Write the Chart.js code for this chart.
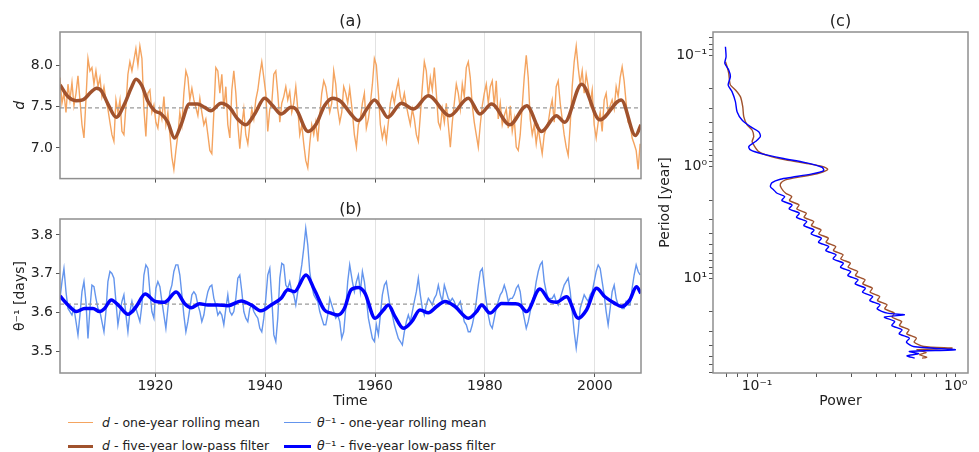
<!DOCTYPE html>
<html><head><meta charset="utf-8">
<script src="https://cdn.jsdelivr.net/npm/chart.js@4.4.1/dist/chart.umd.min.js"></script>
<style>
html,body{margin:0;padding:0;background:#fff;}
body{width:979px;height:452px;position:relative;overflow:hidden;font-family:"DejaVu Sans",sans-serif;}
canvas{position:absolute;}
#cA{left:0;top:0;}
#cB{left:0;top:190px;}
#cC{left:650px;top:0;}
.leg{position:absolute;font-size:12.5px;color:#222;line-height:14px;white-space:nowrap;}
.sw{position:absolute;height:0;}
</style></head><body>
<canvas id="cA" width="650" height="190"></canvas>
<canvas id="cB" width="650" height="220"></canvas>
<canvas id="cC" width="329" height="410"></canvas>

<div class="sw" style="left:68px;top:422px;width:25px;border-top:1.5px solid #F4A460"></div>
<div class="leg" style="left:102px;top:416px"><i>d</i> - one-year rolling mean</div>
<div class="sw" style="left:68px;top:444.5px;width:25px;border-top:3px solid #A0522D"></div>
<div class="leg" style="left:102px;top:439px"><i>d</i> - five-year low-pass filter</div>
<div class="sw" style="left:284px;top:422px;width:27px;border-top:1.5px solid #6495ED"></div>
<div class="leg" style="left:317px;top:416px"><i>θ</i>⁻¹ - one-year rolling mean</div>
<div class="sw" style="left:284px;top:444.5px;width:27px;border-top:3px solid #0000FF"></div>
<div class="leg" style="left:317px;top:439px"><i>θ</i>⁻¹ - five-year low-pass filter</div>

<script>
// ---------------- data ----------------
const rollYears = [
1902.67,1903.03,1903.39,1903.76,1904.12,1904.48,1904.85,1905.21,1905.58,1905.94,
1906.30,1906.67,1907.03,1907.39,1907.76,1908.12,1908.48,1908.85,1909.21,1909.58,
1909.94,1910.30,1910.67,1911.03,1911.39,1911.76,1912.12,1912.48,1912.85,1913.21,
1913.58,1913.94,1914.30,1914.67,1915.03,1915.39,1915.76,1916.12,1916.48,1916.85,
1917.21,1917.58,1917.94,1918.30,1918.67,1919.03,1919.39,1919.76,1920.12,1920.48,
1920.85,1921.21,1921.58,1921.94,1922.30,1922.67,1923.03,1923.39,1923.76,1924.12,
1924.48,1924.85,1925.21,1925.58,1925.94,1926.30,1926.67,1927.03,1927.39,1927.76,
1928.12,1928.48,1928.85,1929.21,1929.58,1929.94,1930.30,1930.67,1931.03,1931.39,
1931.76,1932.12,1932.48,1932.85,1933.21,1933.58,1933.94,1934.30,1934.67,1935.03,
1935.39,1935.76,1936.12,1936.48,1936.85,1937.21,1937.58,1937.94,1938.30,1938.67,
1939.03,1939.39,1939.76,1940.12,1940.48,1940.85,1941.21,1941.58,1941.94,1942.30,
1942.67,1943.03,1943.39,1943.76,1944.12,1944.48,1944.85,1945.21,1945.58,1945.94,
1946.30,1946.67,1947.03,1947.39,1947.76,1948.12,1948.48,1948.85,1949.21,1949.58,
1949.94,1950.30,1950.67,1951.03,1951.39,1951.76,1952.12,1952.48,1952.85,1953.21,
1953.58,1953.94,1954.30,1954.67,1955.03,1955.39,
1955.88,1956.24,1956.61,1956.97,1957.33,1957.70,1958.06,1958.42,1958.79,1959.15,
1959.52,1959.88,1960.24,1960.61,1960.97,1961.33,1961.70,1962.06,1962.42,1962.79,
1963.15,1963.52,1963.88,1964.24,1964.61,1964.97,1965.33,1965.70,1966.06,1966.42,
1966.79,1967.15,1967.52,1967.88,1968.24,1968.61,1968.97,1969.33,1969.70,1970.06,
1970.42,1970.79,1971.15,1971.52,1971.88,1972.24,1972.61,1972.97,1973.33,1973.70,
1974.06,1974.42,1974.79,1975.15,1975.52,1975.88,1976.24,1976.61,1976.97,1977.33,
1977.70,1978.06,1978.42,1978.79,1979.15,1979.52,1979.88,1980.24,1980.61,1980.97,
1981.33,1981.70,1982.06,1982.42,1982.79,1983.15,1983.52,1983.88,1984.24,1984.61,
1984.97,1985.33,1985.70,1986.06,1986.42,1986.79,1987.15,1987.52,1987.88,1988.24,
1988.61,1988.97,1989.33,1989.70,1990.06,1990.42,1990.79,1991.15,1991.52,1991.88,
1992.24,1992.61,1992.97,1993.33,1993.70,1994.06,1994.42,1994.79,1995.15,1995.52,
1995.88,1996.24,1996.61,1996.97,1997.33,1997.70,1998.06,1998.42,1998.79,1999.15,
1999.52,1999.88,2000.24,2000.61,2000.97,2001.33,2001.70,2002.06,2002.42,2002.79,
2003.15,2003.52,2003.88,2004.24,2004.61,2004.97,2005.33,2005.70,2006.06,2006.42,
2006.79,2007.15,2007.52,2007.88,2008.24
];

const dRolling = [
7.85,7.54,7.66,7.43,7.77,7.58,7.79,7.51,7.66,7.87,
7.58,7.28,7.12,7.58,8.08,7.93,7.97,7.77,7.93,7.74,
7.85,7.62,7.74,7.58,7.47,7.31,7.16,7.08,7.58,7.43,
7.58,7.20,7.16,7.51,7.89,8.04,7.93,8.06,8.20,8.00,
8.23,8.08,7.47,7.14,7.66,7.70,7.43,7.52,7.31,7.24,
7.47,7.35,7.62,7.28,7.43,7.16,6.89,6.74,6.97,7.16,
7.43,7.28,7.66,7.93,7.85,7.58,7.72,7.58,7.49,7.39,
7.60,7.43,7.28,7.35,7.16,6.97,6.93,7.43,7.97,7.93,
7.66,7.89,7.47,7.74,7.28,7.12,7.70,7.93,7.66,7.28,
6.99,7.28,7.47,7.16,7.05,7.28,7.47,7.35,7.58,7.70,
7.89,8.04,7.85,7.66,7.20,7.47,7.54,7.89,7.93,7.66,
7.31,7.54,7.62,7.74,7.58,7.68,7.43,7.54,7.74,7.47,
7.16,7.28,7.05,6.85,6.76,7.05,7.28,7.16,7.31,7.08,
7.39,7.66,7.81,7.74,7.58,7.43,7.54,7.93,7.77,7.47,
7.31,7.43,7.74,7.66,7.54,7.72,
7.43,7.16,7.01,7.28,7.35,7.54,7.66,7.24,7.35,7.54,
7.77,8.08,8.00,7.66,7.28,7.12,7.24,7.08,7.31,7.54,
7.66,7.54,7.70,7.81,7.62,7.54,7.66,7.51,7.39,7.28,
7.47,7.35,7.16,7.08,7.39,7.74,8.04,7.93,7.62,7.85,
7.70,7.97,7.66,7.31,7.24,7.47,7.31,7.54,7.28,7.01,
7.31,7.54,7.77,7.66,7.47,7.77,7.62,7.97,8.04,7.85,
7.51,7.31,7.16,7.01,7.28,7.51,7.66,7.77,7.54,7.74,
7.81,7.51,7.81,7.35,7.54,7.28,7.39,7.47,7.24,7.51,
7.20,7.35,7.01,6.97,7.16,7.51,7.85,8.12,7.85,7.35,
7.16,7.28,7.05,7.24,7.08,6.93,7.16,7.24,7.31,7.47,
7.58,7.31,7.74,7.81,7.54,7.35,7.16,7.01,6.91,7.28,
7.74,8.04,8.23,7.97,7.77,7.93,7.66,7.89,7.74,7.54,
7.70,7.28,7.12,7.31,7.43,7.20,7.58,7.66,7.43,7.51,
7.58,7.47,7.74,7.62,7.85,7.98,7.81,7.54,7.31,7.28,
7.12,7.05,6.97,6.74,7.05
];

const thetaRolling = [
3.637,3.680,3.714,3.654,3.611,3.603,3.594,3.611,3.577,3.543,
3.594,3.654,3.680,3.629,3.534,3.611,3.671,3.667,3.637,3.611,
3.603,3.577,3.551,3.603,3.680,3.706,3.701,3.689,3.629,3.569,
3.603,3.629,3.646,3.594,3.551,3.603,3.629,3.603,3.611,3.594,
3.577,3.620,3.697,3.723,3.714,3.654,3.603,3.586,3.663,3.680,
3.667,3.629,3.594,3.560,3.611,3.654,3.671,3.706,3.723,3.723,
3.697,3.646,3.594,3.551,3.577,3.611,3.646,3.654,3.646,3.620,
3.603,3.577,3.594,3.629,3.654,3.667,3.671,3.637,3.620,3.594,
3.603,3.594,3.569,3.611,3.646,3.603,3.594,3.603,3.637,3.689,
3.697,3.654,3.603,3.586,3.577,3.611,3.620,3.603,3.594,3.586,
3.560,3.551,3.586,3.637,3.697,3.714,3.637,3.543,3.526,3.586,
3.689,3.727,3.723,3.671,3.663,3.680,3.654,3.646,3.620,3.654,
3.689,3.723,3.766,3.817,3.774,3.706,3.671,3.646,3.637,3.629,
3.603,3.586,3.569,3.569,3.594,3.637,3.620,3.603,3.586,3.594,
3.577,3.534,3.551,3.611,3.680,3.723,
3.680,3.654,3.680,3.697,3.654,3.706,3.680,3.637,3.586,3.560,
3.534,3.526,3.569,3.543,3.594,3.646,3.671,3.680,3.646,3.611,
3.594,3.569,3.551,3.534,3.526,3.517,3.551,3.577,3.594,3.577,
3.603,3.629,3.654,3.689,3.646,3.611,3.594,3.620,3.637,3.629,
3.620,3.637,3.646,3.671,3.646,3.629,3.671,3.654,3.637,3.629,
3.637,3.629,3.611,3.620,3.629,3.603,3.577,3.569,3.551,3.551,
3.569,3.594,3.629,3.671,3.706,3.714,3.671,3.629,3.594,3.569,
3.560,3.586,3.611,3.629,3.646,3.654,3.671,3.654,3.629,3.637,
3.637,3.646,3.663,3.671,3.654,3.611,3.586,3.560,3.577,3.603,
3.629,3.646,3.680,3.706,3.723,3.731,3.680,3.654,3.637,3.637,
3.637,3.646,3.629,3.620,3.637,3.654,3.671,3.680,3.689,3.654,
3.603,3.551,3.509,3.551,3.611,3.629,3.646,3.637,3.629,3.646,
3.654,3.680,3.706,3.723,3.714,3.680,3.646,3.603,3.569,3.611,
3.654,3.671,3.637,3.620,3.620,3.611,3.611,3.629,3.620,3.620,
3.663,3.697,3.723,3.706,3.697
];

const dFilterYears = [1902.7,1904.1,1905.6,1906.8,1908.4,1909.3,1910.2,1911.4,1912.9,1914.4,
1915.6,1916.5,1917.5,1918.7,1919.9,1921.1,1922.3,1923.5,1924.7,1926.2,1927.7,1929.0,1930.1,
1932.0,1933.5,1935.0,1936.5,1938.1,1939.9,1941.4,1942.9,1944.7,1945.6,1947.8,1949.3,1950.8,
1952.3,1953.8,1955.6,1957.0,1958.5,1959.9,1961.2,1962.3,1964.8,1967.0,1969.7,1973.6,1977.0,
1979.1,1981.2,1984.5,1987.6,1990.3,1993.0,1994.5,1997.6,2000.9,2004.8,2007.4,2008.4];
const dFilter = [7.76,7.62,7.57,7.58,7.68,7.72,7.69,7.53,7.37,7.53,
7.72,7.83,7.76,7.56,7.45,7.41,7.31,7.12,7.28,7.53,7.53,7.49,7.45,
7.54,7.49,7.35,7.28,7.41,7.60,7.51,7.41,7.49,7.47,7.20,7.29,7.51,
7.60,7.56,7.41,7.33,7.47,7.58,7.47,7.37,7.54,7.47,7.63,7.39,7.60,
7.41,7.53,7.28,7.51,7.20,7.39,7.31,7.77,7.34,7.58,7.15,7.28];

const thetaFilterYears = [1902.67,1904.12,1905.64,1907.15,1908.67,1909.88,1910.79,1912.00,1913.52,1915.03,
1916.55,1918.18,1919.88,1921.70,1923.82,1925.33,1926.55,1928.06,1929.58,1931.39,
1933.21,1935.64,1937.45,1939.27,1941.09,1942.91,1944.12,1945.33,1947.45,1948.97,
1950.79,1952.00,1953.21,1954.42,1955.64,1956.97,1958.18,1960.00,1961.52,1962.42,
1963.64,1965.15,1966.67,1968.18,1969.70,1971.21,1972.73,1974.55,1976.97,1978.48,
1979.39,1980.91,1983.03,1985.45,1986.36,1987.58,1990.00,1991.82,1993.03,1994.85,
1996.97,1998.48,2000.30,2001.82,2003.64,2004.85,2006.36,2007.58,2008.36];
const thetaFilter = [3.643,3.620,3.603,3.611,3.611,3.603,3.611,3.633,3.616,3.596,
3.616,3.648,3.630,3.627,3.653,3.624,3.613,3.623,3.620,3.620,
3.618,3.630,3.620,3.605,3.620,3.637,3.659,3.654,3.697,3.659,
3.607,3.599,3.594,3.611,3.659,3.665,3.650,3.586,3.607,3.620,
3.590,3.560,3.577,3.607,3.600,3.616,3.629,3.616,3.586,3.603,
3.620,3.599,3.624,3.623,3.620,3.603,3.661,3.630,3.627,3.641,
3.586,3.607,3.663,3.641,3.624,3.616,3.633,3.667,3.650];

const dMean = 7.485;
const thetaMean = 3.622;

const dSpecPeriod = [0.1148,0.1272,0.1458,0.1675,0.1857,0.2057,0.2361,0.2904,0.3565,0.4236,
0.4698,0.5383,0.5970,0.6397,0.7345,0.8027,0.8716,0.9335,0.9863,1.0566,1.1473,1.2289,1.3162,1.4295,1.5632,
1.733,1.857,2.016,2.204,2.394,2.617,2.843,3.108,3.377,3.692,4.009,4.384,4.760,5.205,5.652,6.180,6.714,
7.339,7.970,8.715,9.465,10.35,11.24,12.29,13.35,14.59,15.85,17.33,18.82,20.58,22.35,24.44,26.54,29.02,
31.51,34.45,37.42,40.92,42.36,43.84,46.32,48.60,51.00,52.06];
const dSpecPower = [0.0693,0.0706,0.0720,0.0726,0.0734,0.0778,0.0824,0.0847,0.0857,0.0891,
0.0944,0.0962,0.0944,0.0962,0.1019,0.1145,0.1389,0.1751,0.2083,0.2268,0.2043,0.1685,0.1389,0.1310,0.1326,
0.1394,0.1495,0.1455,0.1627,0.1584,0.1771,0.1724,0.1929,0.1877,0.2100,0.2044,0.2286,0.2225,0.2489,0.2422,
0.2710,0.2637,0.2950,0.2871,0.3211,0.3126,0.3497,0.3404,0.3806,0.3705,0.4144,0.4034,0.4511,0.4391,0.4912,
0.4781,0.5348,0.5205,0.5822,0.5667,0.6339,0.6170,0.6903,0.9584,0.6388,0.7090,0.6563,0.7145,0.6769];

const thetaSpecPeriod = [0.0842,0.1035,0.1188,0.1362,0.1562,0.1857,0.2129,0.2618,0.3218,0.3820,
0.4385,0.4864,0.5383,0.5970,0.6622,0.7096,0.7700,0.8421,0.9209,1.0139,1.0859,1.1632,1.2458,1.2982,1.3907,
1.5104,1.6181,
1.733,1.857,2.016,2.204,2.394,2.617,2.843,3.108,3.377,3.692,4.009,4.384,4.760,5.205,5.652,6.180,6.714,
7.339,7.970,8.715,9.465,10.35,11.24,12.29,13.35,14.59,15.85,17.33,18.82,20.58,21.30,22.35,24.44,26.54,
29.02,31.51,34.45,37.42,40.92,43.84,45.37,47.61,49.61,52.06];
const thetaSpecPower = [0.0693,0.0698,0.0688,0.0720,0.0734,0.0715,0.0748,0.0778,0.0793,0.0840,
0.0926,0.1019,0.1039,0.0981,0.0908,0.0926,0.1060,0.1336,0.1751,0.2124,0.2165,0.1892,0.1501,0.1310,0.1190,
0.1167,0.1213,
0.1261,0.1378,0.1331,0.1501,0.1449,0.1633,0.1578,0.1778,0.1717,0.1936,0.1870,0.2108,0.2036,0.2295,0.2216,
0.2499,0.2413,0.2720,0.2628,0.2962,0.2860,0.3224,0.3114,0.3510,0.3391,0.3821,0.3690,0.4160,0.4018,0.4529,
0.5516,0.4375,0.4932,0.4763,0.5369,0.5186,0.5845,0.5645,0.6120,0.9961,0.5845,0.6513,0.5689,0.6216];

const yearTicks = [1920, 1940, 1960, 1980, 2000];
const dTicks = [7.0, 7.5, 8.0];
const thetaTicks = [3.5, 3.6, 3.7, 3.8];
const powerTicks = [0.07,0.08,0.09,0.1,0.2,0.3,0.4,0.5,0.6,0.7,0.8,0.9,1];
const periodTicks = [0.07,0.08,0.09,0.1,0.2,0.3,0.4,0.5,0.6,0.7,0.8,0.9,1,2,3,4,5,6,7,8,9,10,20,30,40,50,60,70];
const logTickLabels = {0.1: '10⁻¹', 1: '10⁰', 10: '10¹'};

const xMin = 1902.67, xMax = 2008.4;
const dMin = 6.63, dMax = 8.40;
const thetaMin = 3.445, thetaMax = 3.841;
const powerMin = 0.06, powerMax = 1.153;
const periodMin = 0.0622, periodMax = 70.8;

// ---------------- drawing ----------------
Chart.defaults.font.family = "'DejaVu Sans', sans-serif";
Chart.defaults.font.size = 14;
Chart.defaults.color = '#222';
Chart.defaults.animation = false;

const framePlugin = {
  id: 'frame',
  afterDatasetsDraw(chart) {
    const a = chart.chartArea, c = chart.ctx;
    c.save();
    c.strokeStyle = '#8f8f8f';
    c.lineWidth = 1.5;
    c.strokeRect(a.left, a.top, a.right - a.left, a.bottom - a.top);
    c.restore();
  }
};

function pts(xs, ys) {
  const n = Math.min(xs.length, ys.length), out = [];
  for (let i = 0; i < n; i++) out.push({x: xs[i], y: ys[i]});
  return out;
}

function timeChart(id, cfg) {
  return new Chart(document.getElementById(id), {
    type: 'line',
    data: {datasets: [
      {data: pts(cfg.fYears, cfg.fVals), borderColor: cfg.fColor, borderWidth: 3.5, pointRadius: 0,
       cubicInterpolationMode: 'monotone', fill: false},
      {data: [{x: xMin, y: cfg.mean}, {x: xMax, y: cfg.mean}], borderColor: '#9a9a9a', borderWidth: 1.2,
       borderDash: [4, 3], pointRadius: 0, fill: false},
      {data: pts(rollYears, cfg.rVals), borderColor: cfg.rColor, borderWidth: 1.4, pointRadius: 0,
       tension: 0, fill: false}
    ]},
    options: {
      responsive: false, animation: false, events: [],
      layout: {padding: {left: 0, right: 9, top: 0, bottom: 0}},
      plugins: {
        legend: {display: false}, tooltip: {enabled: false},
        title: {display: true, text: cfg.title, fullSize: false, color: '#222',
                font: {size: 16, weight: 'normal', lineHeight: 1},
                padding: {top: cfg.tTop, bottom: cfg.tBottom}}
      },
      scales: {
        x: {
          type: 'linear', min: xMin, max: xMax,
          afterBuildTicks: s => { s.ticks = yearTicks.map(v => ({value: v})); },
          afterFit: s => { s.height = cfg.xH; },
          grid: {color: '#e2e2e2', lineWidth: 1, drawTicks: true, tickLength: 4, tickColor: '#555'},
          border: {display: false},
          ticks: {display: cfg.showX, padding: 1, autoSkip: false, maxRotation: 0, callback: v => String(v)},
          title: {display: !!cfg.xTitle, text: cfg.xTitle || '', padding: {top: 0, bottom: 0}}
        },
        y: {
          type: 'linear', min: cfg.yMin, max: cfg.yMax,
          afterBuildTicks: s => { s.ticks = cfg.yTicks.map(v => ({value: v})); },
          afterFit: s => { s.width = 60; },
          grid: {drawOnChartArea: false, drawTicks: true, tickLength: 4, tickColor: '#555'},
          border: {display: false},
          ticks: {padding: 3, autoSkip: false, callback: v => Number(v).toFixed(1)},
          title: {display: true, text: cfg.yTitle, font: {size: 14, style: cfg.yStyle},
                  padding: {top: 12, bottom: 0}}
        }
      }
    },
    plugins: [framePlugin]
  });
}

timeChart('cA', {
  title: '(a)', tTop: 14, tBottom: 2, xH: 4, showX: false, xTitle: '',
  fYears: dFilterYears, fVals: dFilter, fColor: '#A0522D',
  rVals: dRolling, rColor: '#F4A460', mean: dMean,
  yMin: dMin, yMax: dMax, yTicks: dTicks, yTitle: 'd', yStyle: 'italic'
});

timeChart('cB', {
  title: '(b)', tTop: 12, tBottom: 1, xH: 37, showX: true, xTitle: 'Time',
  fYears: thetaFilterYears, fVals: thetaFilter, fColor: '#0000FF',
  rVals: thetaRolling, rColor: '#6495ED', mean: thetaMean,
  yMin: thetaMin, yMax: thetaMax, yTicks: thetaTicks, yTitle: 'θ⁻¹ [days]', yStyle: 'normal'
});

new Chart(document.getElementById('cC'), {
  type: 'scatter',
  data: {datasets: [
    {data: pts(thetaSpecPower, thetaSpecPeriod), showLine: true, borderColor: '#0000FF', borderWidth: 1.4,
     pointRadius: 0, tension: 0.25, fill: false},
    {data: pts(dSpecPower, dSpecPeriod), showLine: true, borderColor: '#A0522D', borderWidth: 1.4,
     pointRadius: 0, tension: 0.25, fill: false}
  ]},
  options: {
    responsive: false, animation: false, events: [],
    layout: {padding: {left: 0, right: 11, top: 0, bottom: 0}},
    plugins: {
      legend: {display: false}, tooltip: {enabled: false},
      title: {display: true, text: '(c)', fullSize: false, color: '#222',
              font: {size: 16, weight: 'normal', lineHeight: 1}, padding: {top: 14, bottom: 2}}
    },
    scales: {
      x: {
        type: 'logarithmic', min: powerMin, max: powerMax,
        afterBuildTicks: s => { s.ticks = powerTicks.map(v => ({value: v})); },
        afterFit: s => { s.height = 37; },
        grid: {drawOnChartArea: false, drawTicks: true, tickLength: 4, tickColor: '#555'},
        border: {display: false},
        ticks: {padding: 1, autoSkip: false, maxRotation: 0, callback: v => logTickLabels[v] || ''},
        title: {display: true, text: 'Power', padding: {top: 0, bottom: 0}}
      },
      y: {
        type: 'logarithmic', reverse: true, min: periodMin, max: periodMax,
        afterBuildTicks: s => { s.ticks = periodTicks.map(v => ({value: v})); },
        afterFit: s => { s.width = 63; },
        grid: {drawOnChartArea: false, drawTicks: true, tickLength: 4, tickColor: '#555'},
        border: {display: false},
        ticks: {padding: 2, autoSkip: false, callback: v => logTickLabels[v] || ''},
        title: {display: true, text: 'Period [year]', padding: {top: 7, bottom: 0}}
      }
    }
  },
  plugins: [framePlugin]
});
</script>
</body></html>
